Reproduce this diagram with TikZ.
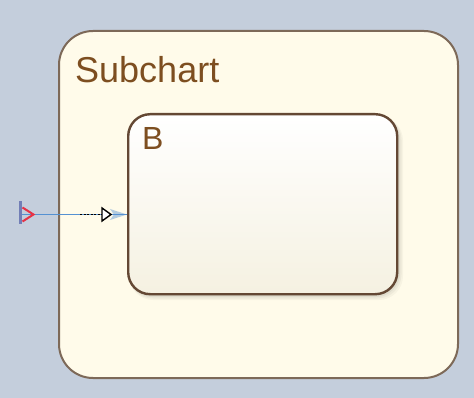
\documentclass[tikz,border=0pt]{standalone}
\usepackage{fontspec}
\setmainfont{Liberation Sans}
\definecolor{bg}{RGB}{196,206,220}
\definecolor{cream}{RGB}{255,251,234}
\definecolor{outerline}{RGB}{125,105,88}
\definecolor{innerline}{RGB}{100,72,52}
\definecolor{labelbrown}{RGB}{125,78,32}
\definecolor{innerbottom}{RGB}{245,241,225}
\definecolor{transblue}{RGB}{85,145,210}
\definecolor{entryred}{RGB}{230,50,70}
\begin{document}
\begin{tikzpicture}[x=1pt,y=-1pt,
  chartbox/.style={draw=outerline, line width=2pt, fill=cream, rounded corners=34pt,
    minimum width=399pt, minimum height=347pt, anchor=north west, inner sep=0pt},
  statebox/.style={draw=innerline, line width=2.4pt, top color=white, bottom color=innerbottom,
    rounded corners=22pt, minimum width=269pt, minimum height=180pt, anchor=north west, inner sep=0pt},
  chartlabel/.style={anchor=base west, inner sep=0pt, text=labelbrown},
  trans/.style={transblue, line width=1.2pt}]
\fill[bg] (0,0) rectangle (474,398);
\useasboundingbox (0,0) rectangle (474,398);
% outer subchart
\node[chartbox] (sub) at (58,30) {};
% shadow of inner state
\foreach \d/\o in {7/0.03,5.5/0.04,4/0.05,2.5/0.06}{
  \fill[black, opacity=\o, rounded corners=24pt] (127+\d*0.3,113+\d*0.5) rectangle (396+\d,293+\d);
}
% inner state B
\node[statebox] (B) at (127,113) {};
\node[chartlabel, font=\fontsize{36}{36}\selectfont] (title) at (75,83) {Subchart};
\node[chartlabel, font=\fontsize{32}{32}\selectfont] (blabel) at (142,150) {B};
% entry port and transition
\coordinate (entry) at (21,214.5);
\coordinate (tip) at (B.west |- entry);
\draw[trans] (entry) -- (tip);
\draw[transblue!80!entryred, line width=2.2pt] (entry) ++(-0.5,-13) -- ++(0,23);
\draw[entryred, line width=2pt] (entry) ++(1.5,-7) -- ++(11,7) -- ++(-11,7);
\draw[black, line width=1.3pt, dash pattern=on 2pt off 1.5pt] (tip) ++(-47,0) -- ++(23,0);
\fill[transblue, opacity=0.45] (tip) ++(-17,-5.5) -- ++(17,5.5) -- ++(-17,5.5) -- ++(4,-5.5) -- cycle;
\draw[black, line width=1.4pt, fill=white] (tip) ++(-25,-6.5) -- ++(9,6.5) -- ++(-9,6.5) -- cycle;
\end{tikzpicture}
\end{document}
